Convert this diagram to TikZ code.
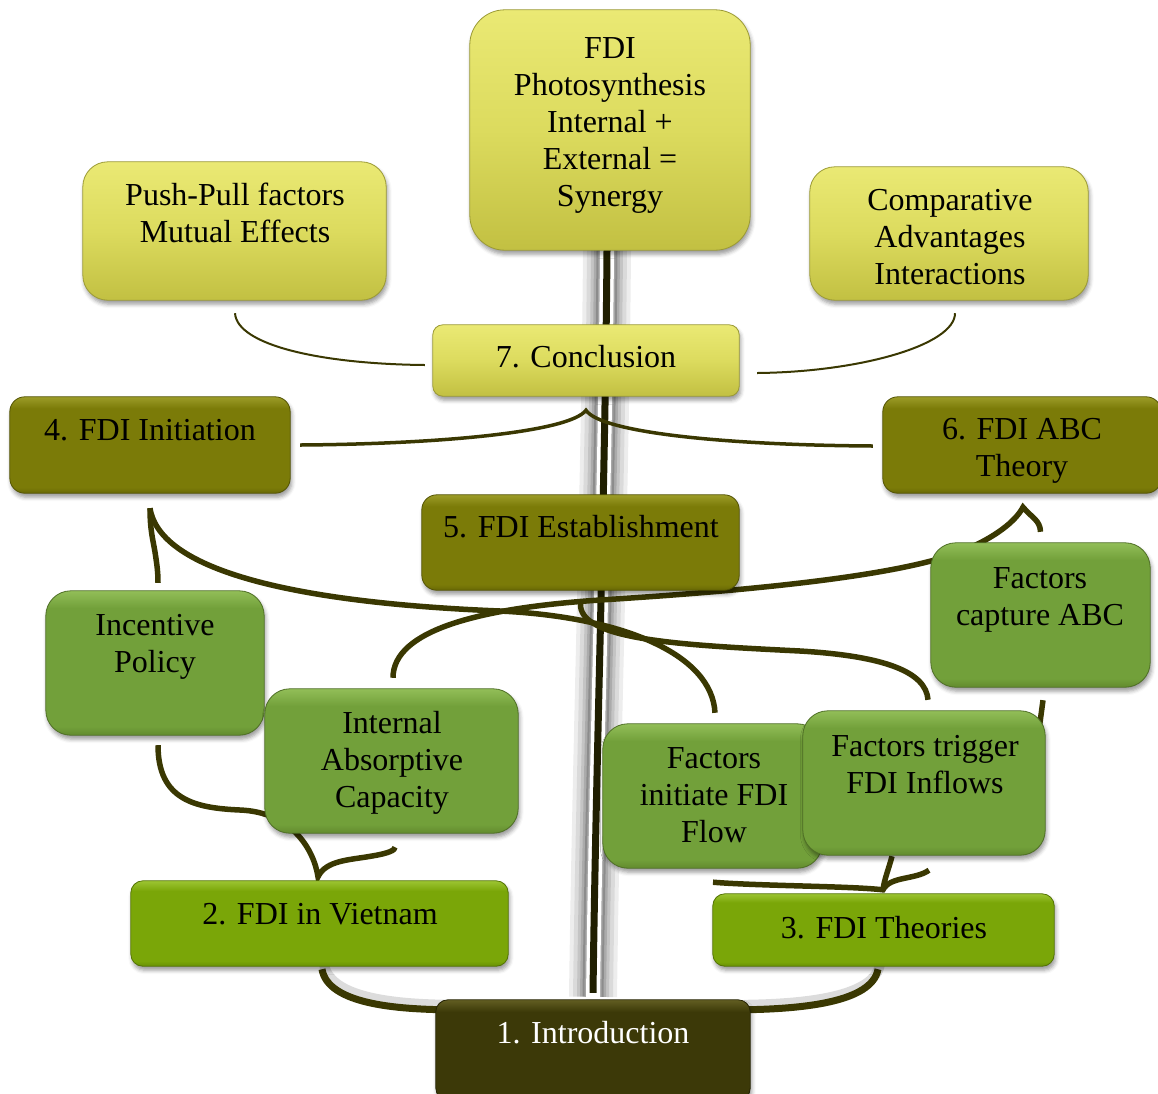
\documentclass[tikz,border=0pt]{standalone}
\usepackage{fontspec}
\setmainfont{Liberation Serif}
\usetikzlibrary{calc,shadows.blur}

% palette
\definecolor{connC}{RGB}{58,56,2}
\definecolor{yelT}{RGB}{234,233,116}
\definecolor{yelM}{RGB}{220,219,94}
\definecolor{yelB}{RGB}{194,192,66}
\definecolor{oliT}{RGB}{156,156,40}
\definecolor{oliM}{RGB}{123,123,8}
\definecolor{oliB}{RGB}{104,104,4}
\definecolor{grnT}{RGB}{146,190,88}
\definecolor{grnM}{RGB}{114,160,58}
\definecolor{grnB}{RGB}{98,138,46}
\definecolor{limT}{RGB}{156,196,50}
\definecolor{limM}{RGB}{122,166,8}
\definecolor{limB}{RGB}{104,144,4}
\definecolor{drkT}{RGB}{98,94,34}
\definecolor{drkM}{RGB}{60,57,8}
\definecolor{drkB}{RGB}{46,44,4}
\colorlet{bvT}{oliT}\colorlet{bvM}{oliM}\colorlet{bvB}{oliB}

% flat fill with a lighter bevel at the top and a darker rim at the bottom
\pgfdeclareverticalshading[bvT,bvM,bvB]{bevel}{100bp}{%
  color(0bp)=(bvB); color(25bp)=(bvB); color(28bp)=(bvM);
  color(69bp)=(bvM); color(75bp)=(bvT); color(100bp)=(bvT)}

\tikzset{
  panel/.style={rounded corners=#1, inner sep=0pt, line width=0.8pt,
    blur shadow={shadow xshift=1.5pt, shadow yshift=-4pt,
                 shadow blur radius=4pt, shadow opacity=40}},
  panel/.default=20,
  fillpal/.style={/utils/exec={\colorlet{bvT}{#1T}\colorlet{bvM}{#1M}\colorlet{bvB}{#1B}},
    shading=bevel, draw=#1B!80!black},
  yellowfill/.style={top color=yelT, bottom color=yelB, middle color=yelM, draw=yelB!80!black},
  lbl/.style={font=\fontsize{32}{37}\selectfont, align=center, inner sep=0pt, text=black, anchor=north},
  conn/.style={draw=connC, line width=5.5pt},
  connthin/.style={draw=connC, line width=2pt},
  connmid/.style={draw=connC, line width=3.5pt},
  connroot/.style={draw=connC, line width=7pt},
  rootglow/.style={draw=gray!60, line width=10pt, opacity=0.45,
    transform canvas={shift={(2pt,5pt)}}},
}

\begin{document}
\begin{tikzpicture}[x=1pt,y=-1pt]
\useasboundingbox (0,0) rectangle (1158,1093);

% ---- node geometry (boxes are painted later, on top of the links)
\path (610,130) node[minimum width=280, minimum height=240, inner sep=0] (fdi) {};
\path (234.5,231) node[minimum width=303, minimum height=138, inner sep=0] (pp) {};
\path (949,233.5) node[minimum width=278, minimum height=133, inner sep=0] (ca) {};
\path (586,360.5) node[minimum width=306, minimum height=71, inner sep=0] (concl) {};
\path (150,445) node[minimum width=280, minimum height=96, inner sep=0] (ini) {};
\path (1022,445) node[minimum width=278, minimum height=96, inner sep=0] (abc) {};
\path (580.5,542.5) node[minimum width=317, minimum height=95, inner sep=0] (est) {};
\path (155,663) node[minimum width=218, minimum height=144, inner sep=0] (inc) {};
\path (391.5,761) node[minimum width=253, minimum height=144, inner sep=0] (iac) {};
\path (1040.5,615) node[minimum width=219, minimum height=144, inner sep=0] (fca) {};
\path (712.5,796) node[minimum width=219, minimum height=144, inner sep=0] (fif) {};
\path (924,783) node[minimum width=242, minimum height=144, inner sep=0] (fti) {};
\path (319.5,923.5) node[minimum width=377, minimum height=85, inner sep=0] (vn) {};
\path (883.5,930) node[minimum width=341, minimum height=72, inner sep=0] (th) {};
\path (593,1050) node[minimum width=314, minimum height=100, inner sep=0] (intro) {};

% ---- link end points
\coordinate (trTop)   at ($(fdi.south)+(-3,0)$);
\coordinate (trBot)   at ($(intro.north)+(0,-3)$);
\coordinate (ppL)     at ($(pp.south)+(0.5,13)$);
\coordinate (conclL)  at ($(concl.west)+(-8,4.5)$);
\coordinate (caL)     at ($(ca.south)+(6,13)$);
\coordinate (conclR)  at ($(concl.east)+(18,12.5)$);
\coordinate (conclTip) at ($(concl.south)+(0,14)$);
\coordinate (iniR)    at ($(ini.east)+(10,0)$);
\coordinate (abcL)    at ($(abc.west)+(-10,1)$);
\coordinate (iniTip)  at ($(ini.south)+(0,15)$);
\coordinate (incTop)  at ($(inc.north)+(3,-8)$);
\coordinate (fifTop)  at ($(fif.north)+(2.5,-11)$);
\coordinate (iacTop)  at ($(iac.north)+(1.5,-11)$);
\coordinate (abcTip)  at ($(abc.south)+(1,14)$);
\coordinate (fcaTop)  at ($(fca.north)+(0,-11)$);
\coordinate (estBot)  at ($(est.south)+(0,13)$);
\coordinate (ftiTop)  at ($(fti.north)+(4,-11)$);
\coordinate (incBot)  at ($(inc.south)+(3,10)$);
\coordinate (vnTip)   at ($(vn.north)+(-1.5,-4)$);
\coordinate (iacBot)  at ($(iac.south)+(3.5,14)$);
\coordinate (ftiBot)  at ($(fti.south)+(-32,1)$);
\coordinate (thTip)   at ($(th.north)+(-0.5,-4)$);
\coordinate (fifBot)  at ($(fif.south)+(0.5,14)$);
\coordinate (ftiBR)   at ($(fti.south)+(5,15)$);
\coordinate (fcaBot)  at ($(fca.south)+(2.5,13)$);
\coordinate (ftiIn)   at ($(fti.north)+(115,19)$);
\coordinate (vnBot)   at ($(vn.south)+(2.5,3)$);
\coordinate (introL)  at ($(intro.north west)+(10,10)$);
\coordinate (thBot)   at ($(th.south)+(-5.5,3)$);
\coordinate (introR)  at ($(intro.north east)+(-8,10)$);

% ---- trunk with soft glow
\foreach \w/\o in {48/0.07, 40/0.08, 32/0.10, 26/0.13, 21/0.18}{
  \draw[black, line width=\w pt, opacity=\o] (trTop) .. controls (605,500) and (596,760) .. (trBot);
}
\draw[gray!70, line width=17pt] (trTop) .. controls (605,500) and (596,760) .. (trBot);
\draw[white, line width=14pt, line cap=round] (trTop) .. controls (605,500) and (596,760) .. (trBot);
\draw[connC!55!black, line width=7pt] (trTop) .. controls (605,500) and (596,760) .. ($(trBot)+(0,-4)$);

% ---- links
\draw[connthin] (ppL) .. controls (237,345) and (320,364) .. (conclL);
\draw[connthin] (caL) .. controls (955,345) and (860,372) .. (conclR);
\draw[connmid] (iniR) .. controls (440,444) and (570,432) .. (conclTip)
               .. controls (600,432) and (720,445) .. (abcL);
\draw[conn] (iniTip) .. controls (150,530) and (153,540) .. (155,552)
            .. controls (157,565) and (158,572) .. (incTop);
\draw[conn] (iniTip) .. controls (160,572) and (300,603) .. (500,611)
            .. controls (625,617) and (712,655) .. (fifTop);
\draw[conn] (iacTop) .. controls (393,630) and (480,608) .. (600,600)
            .. controls (760,590) and (905,575) .. (965,550)
            .. controls (995,537) and (1015,522) .. (abcTip)
            .. controls (1032,518) and (1040,520) .. (fcaTop);
\draw[conn] (estBot) .. controls (578,640) and (680,645) .. (800,651)
            .. controls (885,656) and (926,672) .. (ftiTop);
\draw[conn] (incBot) .. controls (158,800) and (195,808) .. (240,810)
            .. controls (292,812) and (314,850) .. (vnTip)
            .. controls (326,860) and (350,860) .. (372,856)
            .. controls (390,853) and (395,850) .. (iacBot);
\draw[conn] (ftiBot) .. controls (889,868) and (884,880) .. (thTip);
\draw[conn] (fifBot) .. controls (760,886) and (850,886) .. (thTip)
            .. controls (890,876) and (915,880) .. (ftiBR);
\draw[conn] (fcaBot) -- (ftiIn);
\draw[rootglow] (vnBot) .. controls (328,1005) and (400,1009) .. (introL);
\draw[rootglow] (thBot) .. controls (872,1003) and (800,1009) .. (introR);
\draw[connroot] (vnBot) .. controls (328,1005) and (400,1009) .. (introL);
\draw[connroot] (thBot) .. controls (872,1003) and (800,1009) .. (introR);

% ---- boxes and their texts
\path[panel=35, yellowfill] (fdi.north west) rectangle (fdi.south east);
\node[lbl] (fdiT) at (610,37) {FDI\\Photosynthesis\\Internal +\\External =\\Synergy};

\path[panel=25, yellowfill] (pp.north west) rectangle (pp.south east);
\node[lbl] (ppT) at (235,183) {Push-Pull factors\\Mutual Effects};

\path[panel=25, yellowfill] (ca.north west) rectangle (ca.south east);
\node[lbl] (caT) at (950,189) {Comparative\\Advantages\\Interactions};

\path[panel=10, yellowfill] (concl.north west) rectangle (concl.south east);
\node[lbl] (conclT) at (586,345) {7. Conclusion};

\path[panel=15, fillpal=oli] (ini.north west) rectangle (ini.south east);
\node[lbl] (iniT) at (150,419) {4. FDI Initiation};

\path[panel=15, fillpal=oli] (abc.north west) rectangle (abc.south east);
\node[lbl] (abcT) at (1022,418) {6. FDI ABC\\Theory};

\path[panel=15, fillpal=oli] (est.north west) rectangle (est.south east);
\node[lbl] (estT) at (581,515) {5. FDI Establishment};

\path[panel=25, fillpal=grn] (inc.north west) rectangle (inc.south east);
\node[lbl] (incT) at (155,614) {Incentive\\Policy};

\path[panel=25, fillpal=grn] (iac.north west) rectangle (iac.south east);
\node[lbl] (iacT) at (392,711) {Internal\\Absorptive\\Capacity};

\path[panel=25, fillpal=grn] (fca.north west) rectangle (fca.south east);
\node[lbl] (fcaT) at (1040,567) {Factors\\capture ABC};

\path[panel=25, fillpal=grn] (fif.north west) rectangle (fif.south east);
\node[lbl] (fifT) at (714,747) {Factors\\initiate FDI\\Flow};

\path[panel=25, fillpal=grn] (fti.north west) rectangle (fti.south east);
\node[lbl] (ftiT) at (925,735) {Factors trigger\\FDI Inflows};

\path[panel=12, fillpal=lim] (vn.north west) rectangle (vn.south east);
\node[lbl] (vnT) at (320,903) {2. FDI in Vietnam};

\path[panel=12, fillpal=lim] (th.north west) rectangle (th.south east);
\node[lbl] (thT) at (884,916) {3. FDI Theories};

\path[panel=12, fillpal=drk] (intro.north west) rectangle (intro.south east);
\node[lbl, text=white] (introT) at (593,1021) {1. Introduction};
\end{tikzpicture}
\end{document}
